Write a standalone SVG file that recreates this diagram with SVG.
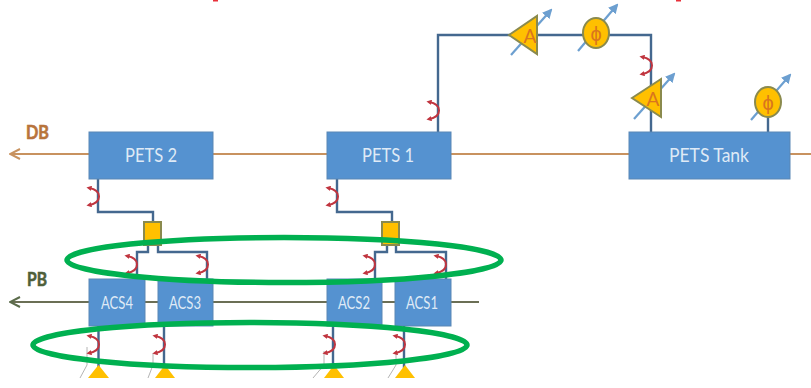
<svg xmlns="http://www.w3.org/2000/svg" xmlns:xlink="http://www.w3.org/1999/xlink" width="811" height="388" viewBox="0 0 811 388">
<style>
.box{fill:#5592d0;stroke:#5b87b5;stroke-width:1}
.lb{font-family:"Lato","Liberation Sans",sans-serif;fill:#dfeaf6;text-anchor:middle}
.l1{font-size:19px}
.l2{font-size:17px}
.wg{fill:none;stroke:#44688f;stroke-width:2.4}
.db{fill:none;stroke:#c8925f;stroke-width:2}
.pb{fill:none;stroke:#6b6f55;stroke-width:1.8}
.adj{fill:none;stroke:#6c9fd0;stroke-width:2.2;marker-end:url(#ah)}
.y{fill:#ffc000;stroke:#8a8a4e;stroke-width:2}
.yt{font-family:"Lato","Liberation Sans",sans-serif;font-size:19px;fill:#d9751e;text-anchor:middle}
.ph{font-family:"Liberation Sans","DejaVu Sans",sans-serif;font-size:20px;fill:#d9751e;text-anchor:middle}
.ring{fill:none;stroke:#00b050;stroke-width:5.5}
.cp{fill:none;stroke:#c0353f;stroke-width:2;marker-start:url(#rh);marker-end:url(#rh)}
.hd{font-family:"Lato","Liberation Sans",sans-serif;font-size:19px;font-weight:700;stroke-width:0.6}
.thin{fill:none;stroke:#b4b4b4;stroke-width:1}
</style>
<defs>
<marker id="ah" viewBox="0 0 10 10" refX="8" refY="5" markerWidth="4.5" markerHeight="4.5" orient="auto"><path d="M0 0L10 5L0 10Z" fill="#6c9fd0"/></marker>
<marker id="rh" viewBox="0 0 10 10" refX="5" refY="5" markerWidth="2.6" markerHeight="2.6" orient="auto-start-reverse"><path d="M0 0L10 5L0 10Z" fill="#c0353f"/></marker>
<marker id="dh" viewBox="0 0 12 12" refX="11" refY="6" markerWidth="12" markerHeight="12" markerUnits="userSpaceOnUse" orient="auto"><path d="M1 1L11 6L1 11" fill="none" stroke="#c8925f" stroke-width="2"/></marker>
<marker id="ph" viewBox="0 0 12 12" refX="11" refY="6" markerWidth="12" markerHeight="12" markerUnits="userSpaceOnUse" orient="auto"><path d="M1 1L11 6L1 11" fill="none" stroke="#5a6b4a" stroke-width="2"/></marker>
<path id="c" class="cp" d="M0 0C6 1 10 4 10 8.500C10 13 6 16 0 17"/>
</defs>
<rect width="811" height="388" fill="#fff"/>
<g id="connectors">
<path class="db" d="M213 154H327M451 154H629M790 154H811"/>
<path class="db" d="M89 154H10" marker-end="url(#dh)"/>
<path class="pb" d="M213 302H327M382 302H395M451 302H479M145 302H158"/>
<path class="pb" d="M89 302H10" marker-end="url(#ph)"/>
<path class="wg" d="M438 132V35H651V132"/>
<path class="wg" d="M768 117V132"/>
<path class="wg" d="M98 179V212H153V222"/>
<path class="wg" d="M337 179V212H392V222"/>
<path class="wg" d="M148 245V252H137V279M158 245V252H207V279"/>
<path class="wg" d="M387 245V252H375V279M396 245V252H446V279"/>
<path class="wg" d="M98.500 326V368M164 326V368M333 326V368M404 326V368"/>
<path class="thin" d="M87 347V365L80 378M153 353V365L148 378M324 351V365L313 378M396 351V365L388 378"/>
<use xlink:href="#c" x="429" y="102"/>
<use xlink:href="#c" x="642" y="57"/>
<use xlink:href="#c" x="89" y="188"/>
<use xlink:href="#c" x="328" y="188"/>
<use xlink:href="#c" x="127" y="256"/>
<use xlink:href="#c" x="198" y="256"/>
<use xlink:href="#c" x="365" y="256"/>
<use xlink:href="#c" x="436" y="256"/>
<use xlink:href="#c" x="89" y="336"/>
<use xlink:href="#c" x="155" y="336"/>
<use xlink:href="#c" x="325" y="336"/>
<use xlink:href="#c" x="395" y="336"/>
</g>
<g id="label-db"><text class="hd" x="26" y="139" fill="#b8743c" stroke="#b8743c" textLength="23" lengthAdjust="spacingAndGlyphs">DB</text></g>
<g id="label-pb"><text class="hd" x="27" y="286" fill="#4f5f3a" stroke="#4f5f3a" textLength="20" lengthAdjust="spacingAndGlyphs">PB</text></g>
<g id="pets2"><rect class="box" x="89" y="132" width="124" height="47"/><text class="lb l1" x="151" y="162" textLength="52" lengthAdjust="spacingAndGlyphs">PETS 2</text></g>
<g id="pets1"><rect class="box" x="327" y="132" width="124" height="47"/><text class="lb l1" x="388" y="162" textLength="52" lengthAdjust="spacingAndGlyphs">PETS 1</text></g>
<g id="petstank"><rect class="box" x="629" y="132" width="161" height="47"/><text class="lb l1" x="709" y="162" textLength="80" lengthAdjust="spacingAndGlyphs">PETS Tank</text></g>
<g id="acs4"><rect class="box" x="89" y="279" width="56" height="47"/><text class="lb l2" x="117" y="309" textLength="32" lengthAdjust="spacingAndGlyphs">ACS4</text></g>
<g id="acs3"><rect class="box" x="158" y="279" width="55" height="47"/><text class="lb l2" x="185" y="309" textLength="32" lengthAdjust="spacingAndGlyphs">ACS3</text></g>
<g id="acs2"><rect class="box" x="327" y="279" width="55" height="47"/><text class="lb l2" x="354" y="309" textLength="32" lengthAdjust="spacingAndGlyphs">ACS2</text></g>
<g id="acs1"><rect class="box" x="395" y="279" width="56" height="47"/><text class="lb l2" x="422" y="309" textLength="32" lengthAdjust="spacingAndGlyphs">ACS1</text></g>
<g id="splitter-left"><rect class="y" x="144" y="222" width="17" height="23"/></g>
<g id="splitter-right"><rect class="y" x="382" y="222" width="17" height="23"/></g>
<g id="amp1"><path class="adj" d="M511 55L551 10"/><path class="y" d="M509 35L537 16V54Z"/><text class="yt" x="530" y="43">A</text></g>
<g id="phase1"><path class="adj" d="M578 51L617 5"/><ellipse class="y" cx="596" cy="33" rx="13" ry="15"/><text class="ph" x="596" y="41">ϕ</text></g>
<g id="amp2"><path class="adj" d="M634 119L674 74"/><path class="y" d="M632 98L661 79V117Z"/><text class="yt" x="653" y="106">A</text></g>
<g id="phase2"><path class="adj" d="M751 120L790 75"/><ellipse class="y" cx="768" cy="102" rx="13" ry="15"/><text class="ph" x="768" y="110">ϕ</text></g>
<g id="load-triangles">
<path fill="#ffc000" d="M98.500 365L109 378H88Z"/>
<path fill="#ffc000" d="M165 365L175 378H155Z"/>
<path fill="#ffc000" d="M334 365L344 378H324Z"/>
<path fill="#ffc000" d="M405 365L415 378H395Z"/>
</g>
<g id="rings">
<ellipse class="ring" cx="284" cy="260" rx="217" ry="22.500"/>
<ellipse class="ring" cx="250" cy="345" rx="217" ry="22.500"/>
</g>
<g id="top-marks" fill="#e8303a"><rect x="213" y="0" width="5" height="1.500"/><rect x="676" y="0" width="5" height="1.500"/></g>
</svg>
